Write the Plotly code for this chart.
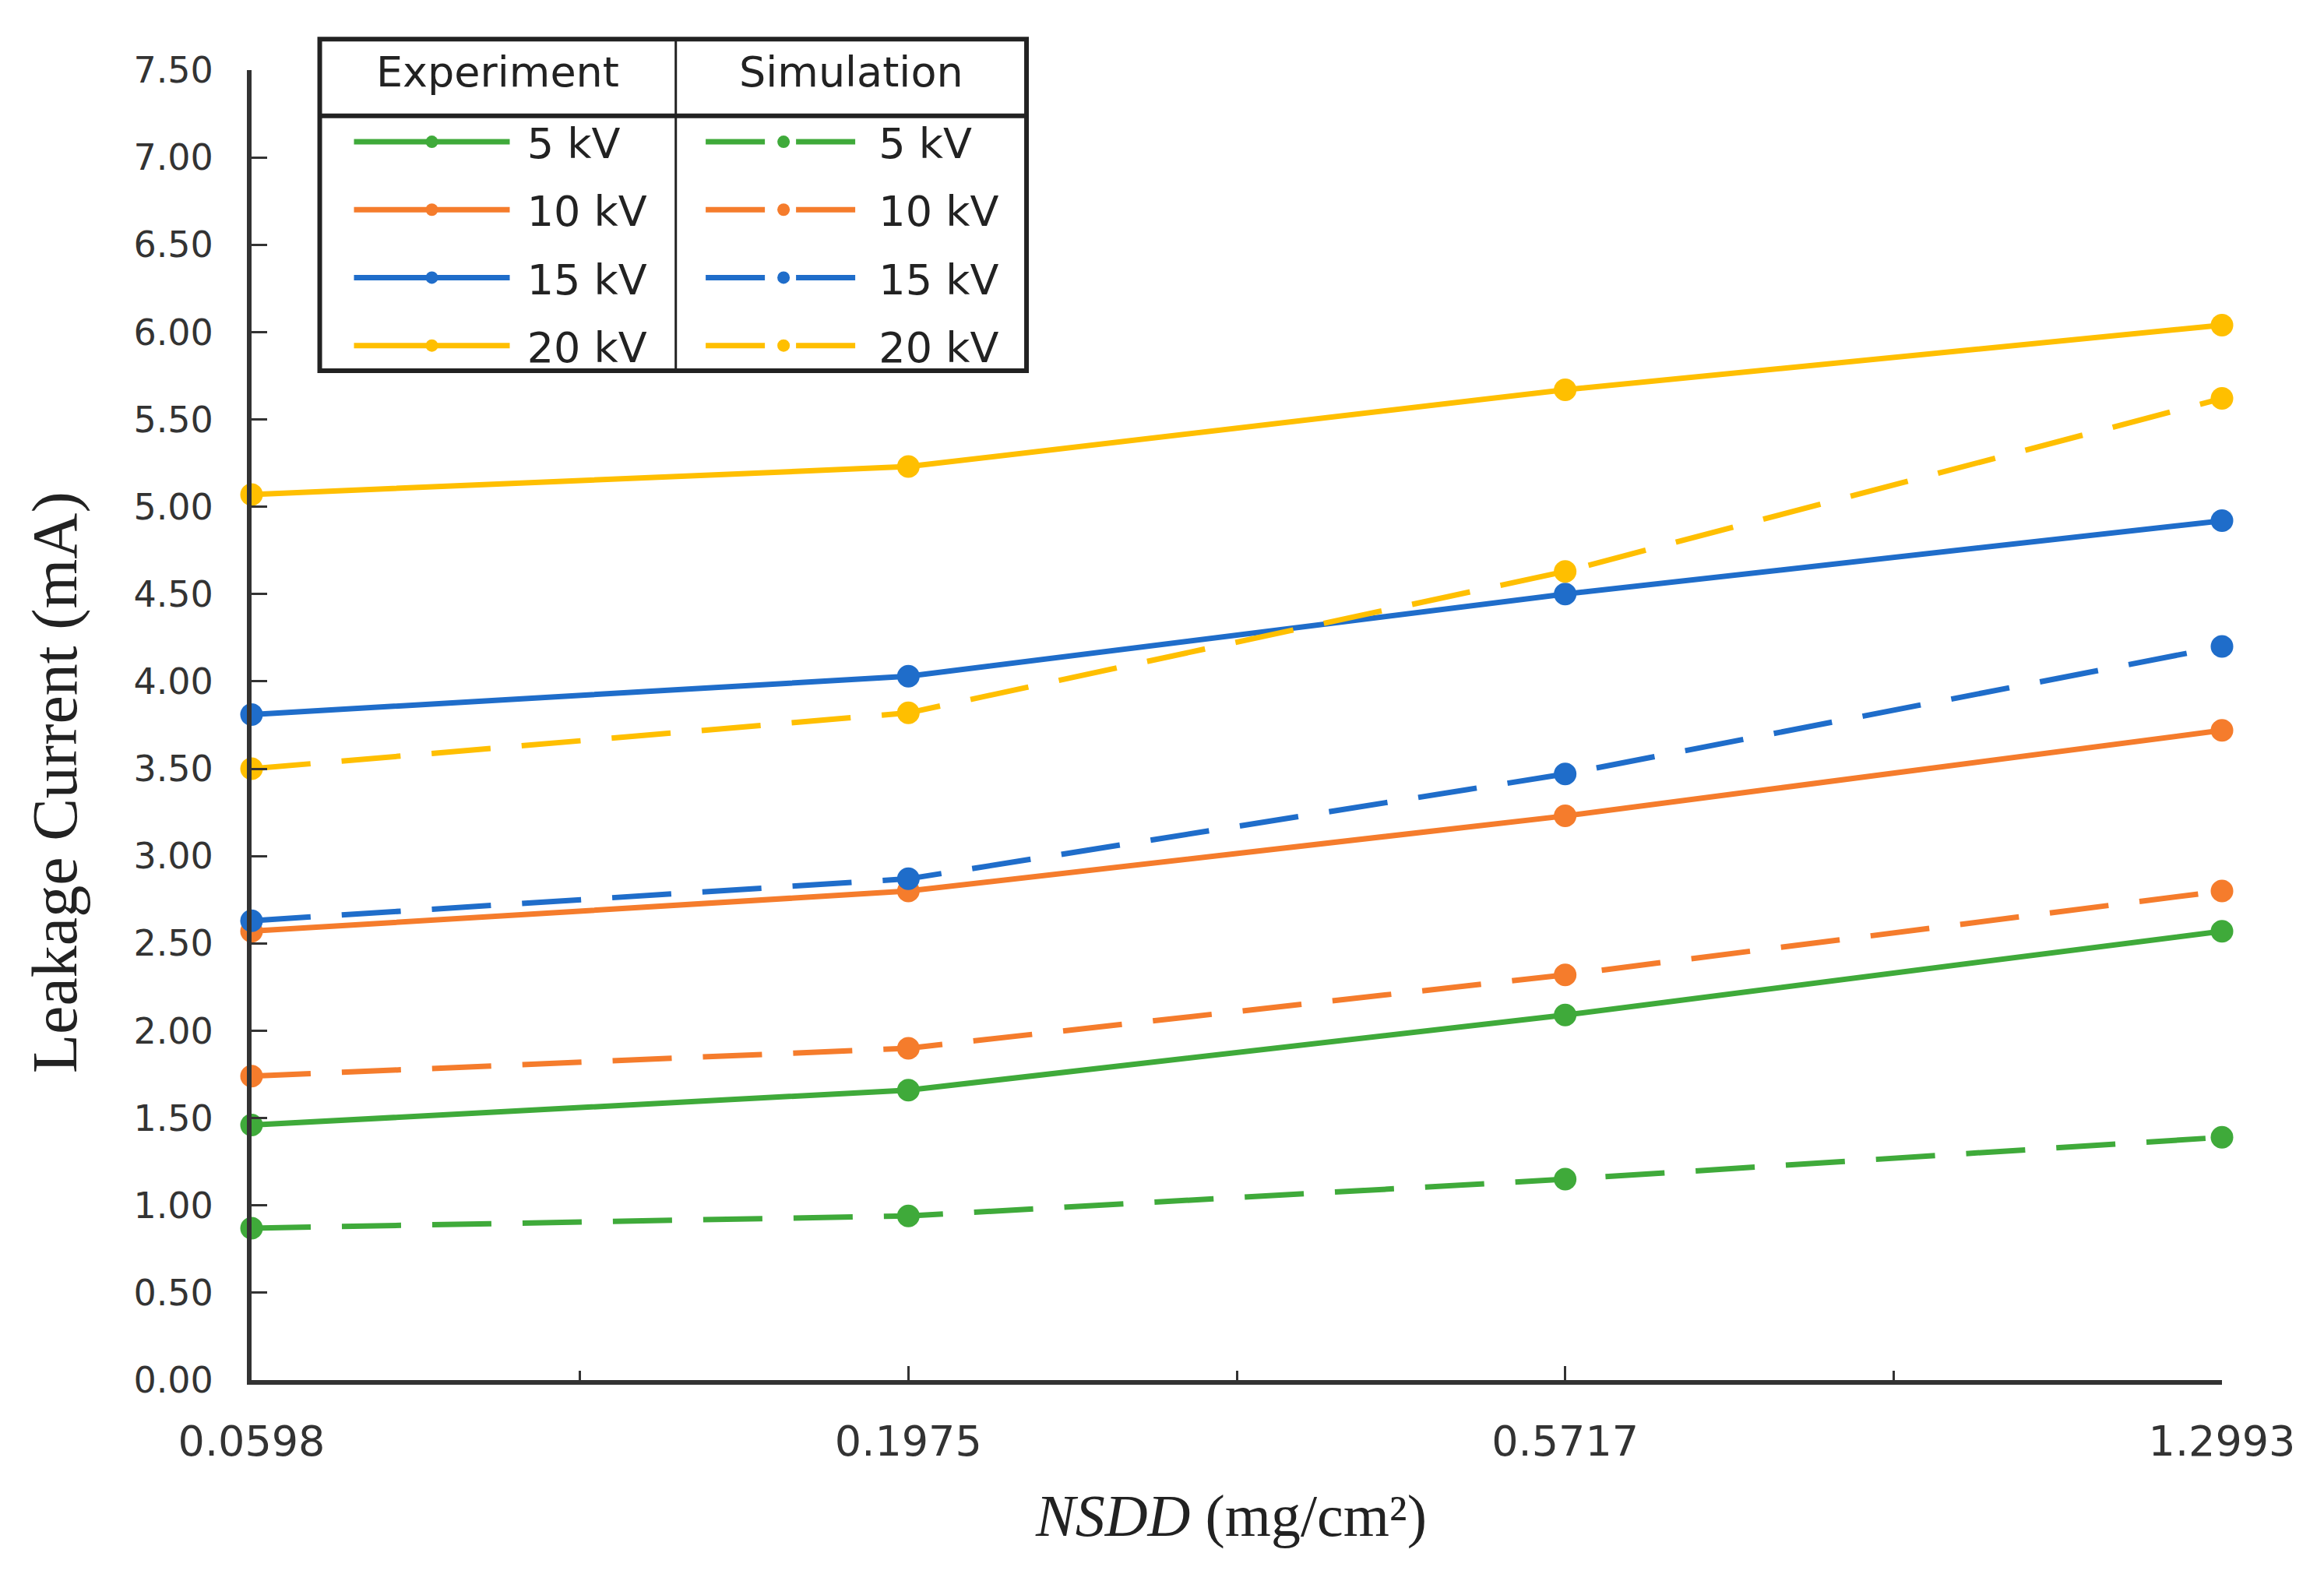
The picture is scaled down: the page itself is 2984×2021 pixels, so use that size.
import plotly.graph_objects as go

categories = ["0.0598", "0.1975", "0.5717", "1.2993"]
voltages = ["5 kV", "10 kV", "15 kV", "20 kV"]
colors = ["#3FAA3A", "#F57C2C", "#1F6DCA", "#FFBF00"]

exp_5 = [1.46, 1.66, 2.09, 2.57]
exp_10 = [2.57, 2.80, 3.23, 3.72]
exp_15 = [3.81, 4.03, 4.50, 4.92]
exp_20 = [5.07, 5.23, 5.67, 6.04]

sim_5 = [0.87, 0.94, 1.15, 1.39]
sim_10 = [1.74, 1.90, 2.32, 2.80]
sim_15 = [2.63, 2.87, 3.47, 4.20]
sim_20 = [3.50, 3.82, 4.63, 5.62]

y_ticks = [0.0, 0.5, 1.0, 1.5, 2.0, 2.5, 3.0, 3.5, 4.0, 4.5, 5.0, 5.5, 6.0, 6.5, 7.0, 7.5]

exp_series = [exp_5, exp_10, exp_15, exp_20]
sim_series = [sim_5, sim_10, sim_15, sim_20]

xpos = list(range(len(categories)))

fig = go.Figure()

for i, (name, col, vals) in enumerate(zip(voltages, colors, exp_series)):
    fig.add_trace(go.Scatter(
        x=xpos, y=vals, mode="lines+markers", name="\u00a0" + name,
        line=dict(color=col, width=7),
        marker=dict(color=col, size=29, symbol="circle"),
        legend="legend", legendgroup="e" + str(i), cliponaxis=False,
    ))
for i, (name, col, vals) in enumerate(zip(voltages, colors, sim_series)):
    fig.add_trace(go.Scatter(
        x=xpos, y=vals, mode="lines+markers", name="\u00a0" + name,
        line=dict(color=col, width=7, dash="76px,40px"),
        marker=dict(color=col, size=29, symbol="circle"),
        legend="legend2", legendgroup="s" + str(i), cliponaxis=False,
    ))

axis_col = "#333333"
fig.update_xaxes(
    range=[0, 3], tickmode="array", tickvals=xpos, ticktext=categories,
    showline=True, linecolor=axis_col, linewidth=6,
    ticks="inside", ticklen=18, tickwidth=3, tickcolor=axis_col,
    minor=dict(ticks="inside", ticklen=12, tickwidth=3, tickcolor=axis_col, dtick=0.5, tick0=0),
    tickfont=dict(family="DejaVu Sans", size=54, color="#333333"),
    ticklabelstandoff=26, showgrid=False, zeroline=False,
)
fig.update_yaxes(
    range=[0, 7.5], tickmode="array", tickvals=y_ticks,
    ticktext=["%.2f" % v for v in y_ticks],
    showline=True, linecolor=axis_col, linewidth=6,
    ticks="inside", ticklen=20, tickwidth=3, tickcolor=axis_col,
    tickfont=dict(family="DejaVu Sans", size=46, color="#333333"),
    ticklabelstandoff=34, showgrid=False, zeroline=False,
)

legend_font = dict(family="DejaVu Sans", size=54, color="#222222")
common_leg = dict(
    font=legend_font, bgcolor="rgba(0,0,0,0)", borderwidth=0,
    itemwidth=200, tracegroupgap=14, yanchor="top", xanchor="left",
    itemclick=False, itemdoubleclick=False,
)
fig.update_layout(
    width=2976, height=2013,
    margin=dict(l=315, r=131, t=82, b=249),
    paper_bgcolor="white", plot_bgcolor="white",
    showlegend=True,
    legend=dict(x=0.0500, y=0.970, **common_leg),
    legend2=dict(x=0.2285, y=0.970, **common_leg),
)

# legend frame
box_x0, box_x1, box_y0, box_y1 = 0.0346, 0.3933, 0.7705, 1.0237
hdr_y, div_x = 0.9651, 0.2153
fig.add_shape(type="rect", xref="paper", yref="paper", x0=box_x0, x1=box_x1, y0=box_y0, y1=box_y1,
              line=dict(color="#222222", width=6), fillcolor="rgba(255,255,255,0)", layer="above")
fig.add_shape(type="line", xref="paper", yref="paper", x0=box_x0, x1=box_x1, y0=hdr_y, y1=hdr_y,
              line=dict(color="#222222", width=6))
fig.add_shape(type="line", xref="paper", yref="paper", x0=div_x, x1=div_x, y0=box_y0, y1=box_y1,
              line=dict(color="#222222", width=3))
fig.add_annotation(text="Experiment", xref="paper", yref="paper", x=(box_x0 + div_x) / 2, y=(hdr_y + box_y1) / 2 + 0.004,
                   showarrow=False, xanchor="center", yanchor="middle", font=legend_font)
fig.add_annotation(text="Simulation", xref="paper", yref="paper", x=(div_x + box_x1) / 2, y=(hdr_y + box_y1) / 2 + 0.004,
                   showarrow=False, xanchor="center", yanchor="middle", font=legend_font)

# axis titles
fig.add_annotation(text="Leakage Current (mA)", xref="paper", yref="paper", x=-0.1, y=0.456,
                   textangle=-90, showarrow=False, xanchor="center", yanchor="middle",
                   font=dict(family="Liberation Serif", size=82, color="#222222"))
fig.add_annotation(text="<i>NSDD</i> (mg/cm²)", xref="paper", yref="paper", x=0.497, y=-0.104,
                   showarrow=False, xanchor="center", yanchor="middle",
                   font=dict(family="Liberation Serif", size=76, color="#222222"))

fig.write_html("out.html")
